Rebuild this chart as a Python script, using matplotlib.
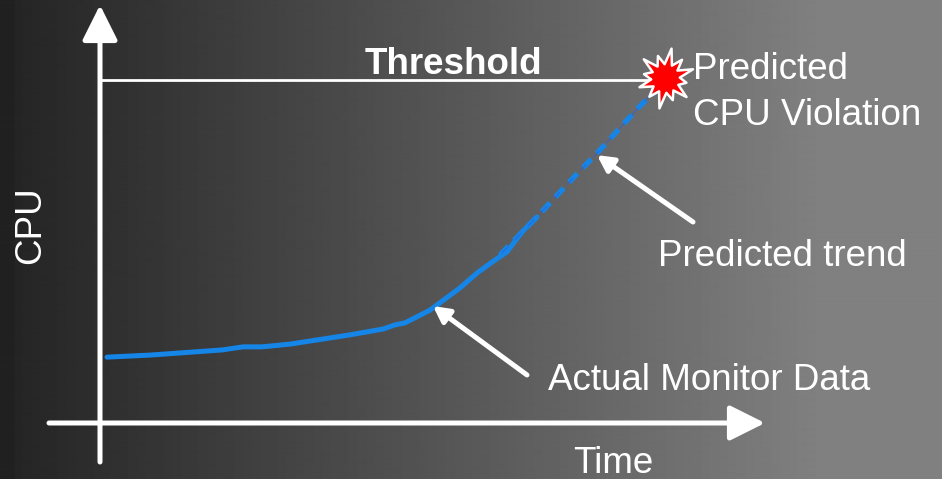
import numpy as np
import matplotlib
matplotlib.use("Agg")
import matplotlib.pyplot as plt
from matplotlib.path import Path

plt.rcParams['font.family'] = ['Liberation Sans', 'DejaVu Sans']

actual_time = [0.7, 5.0, 12.2, 14.3, 16.2, 19.0, 25.0, 28.3, 29.5, 30.5, 33.0,
               36.0, 37.7, 39.2, 40.7, 42.2, 43.7]
actual_cpu = [19.2, 19.8, 21.3, 22.2, 22.2, 23.0, 25.7, 27.4, 28.6, 29.2, 32.9,
              39.4, 43.7, 46.9, 49.9, 55.7, 60.1]

pred_time = [40.0, 43.7, 47.3, 50.0, 53.8, 55.5]
pred_cpu = [49.0, 60.1, 71.4, 79.6, 91.8, 96.8]

threshold = 100.0
threshold_end = 55.5
violation = (56.5, 100.6)

# pixel layout helpers (origin of the chart axes at pixel 100, 423)
X0, Y0, SX, SY = 100, 423, 10.0, 3.43
W, H = 942, 479

fig = plt.figure(figsize=(W / 100, H / 100), dpi=100)
ax = fig.add_axes([0, 0, 1, 1])
xmin, xmax = -X0 / SX, (W - X0) / SX
ymin, ymax = (Y0 - H) / SY, Y0 / SY
ax.set_xlim(xmin, xmax)
ax.set_ylim(ymin, ymax)
ax.axis('off')

# grey gradient background
px = np.arange(W)
grey = np.clip(0x25 + (px - 15) * (0x80 - 0x25) / (820 - 15), 0x25, 0x80)
grey[px < 15] = 0x21
bg = np.tile(grey / 255.0, (2, 1))
ax.imshow(bg, cmap='gray', vmin=0, vmax=1, extent=[xmin, xmax, ymin, ymax],
          aspect='auto', zorder=0, interpolation='bilinear')

white = 'white'
# axes arrows
axis_style = dict(arrowstyle='-|>,head_length=1.08,head_width=0.54', color=white,
                  lw=3.6, mutation_scale=20, shrinkA=0, shrinkB=0)
ax.annotate('', xy=(0, (Y0 - 5) / SY), xytext=(0, (Y0 - 462) / SY), arrowprops=axis_style)
ax.annotate('', xy=((765 - X0) / SX, 0), xytext=((49 - X0) / SX, 0), arrowprops=axis_style)

# threshold line
ax.plot([0, threshold_end], [threshold, threshold], color=white, lw=2, zorder=2)

# curves
blue = '#1685e8'
ax.plot(actual_time, actual_cpu, color=blue, lw=3.6, solid_capstyle='round', zorder=3)
ax.plot(pred_time, pred_cpu, color=blue, lw=3.8, ls=(0, (2.3, 1.5)),
        dash_capstyle='butt', zorder=3)
ax.plot(pred_time, pred_cpu, color='#2a62dc', lw=0.6, ls=(-2.5, (10.5, 12.3)), zorder=3)

# violation star
n = 12
outer = [1.0, 0.78, 0.95, 0.72, 0.9, 0.8, 1.0, 0.75, 0.92, 0.7, 0.95, 0.82]
ang = np.linspace(0, 2 * np.pi, 2 * n, endpoint=False) + np.pi / 2 - 0.2
rad = np.empty(2 * n)
rad[0::2] = outer
rad[1::2] = 0.47
verts = np.column_stack([rad * np.cos(ang), rad * np.sin(ang)])
verts = np.vstack([verts, verts[:1]])
codes = [Path.MOVETO] + [Path.LINETO] * (2 * n - 1) + [Path.CLOSEPOLY]
star = Path(verts, codes)
ax.plot([violation[0]], [violation[1]], marker=star, markersize=43,
        markerfacecolor='#ff0000', markeredgecolor=white, markeredgewidth=1.8,
        ls='none', zorder=5)

# pointer arrows
ptr_style = dict(arrowstyle='-|>,head_length=0.95,head_width=0.5', color=white,
                 lw=3.6, mutation_scale=10, shrinkA=0, shrinkB=0)
ax.annotate('', xy=(33.3, 34.1), xytext=(42.7, 14.0), arrowprops=ptr_style, zorder=6)
ax.annotate('', xy=(49.7, 78.1), xytext=(59.3, 58.6), arrowprops=ptr_style, zorder=6)

fs = 26.5
ax.text(26.5, 101.7, 'Threshold', color=white, fontsize=fs, fontweight='bold',
        ha='left', va='baseline')
ax.text(59.3, 100.3, 'Predicted', color=white, fontsize=fs, ha='left', va='baseline')
ax.text(59.3, 86.9, 'CPU Violation', color=white, fontsize=fs, ha='left', va='baseline')
ax.text(55.8, 45.8, 'Predicted trend', color=white, fontsize=fs, ha='left', va='baseline')
ax.text(44.8, 9.6, 'Actual Monitor Data', color=white, fontsize=fs, ha='left', va='baseline')
ax.text(47.3, -14.6, 'Time', color=white, fontsize=fs, ha='left', va='baseline')
ax.text(-6.9, 57.7, 'CPU', color=white, fontsize=fs, rotation=90, ha='center', va='center')

fig.savefig('out.png', dpi=100)
